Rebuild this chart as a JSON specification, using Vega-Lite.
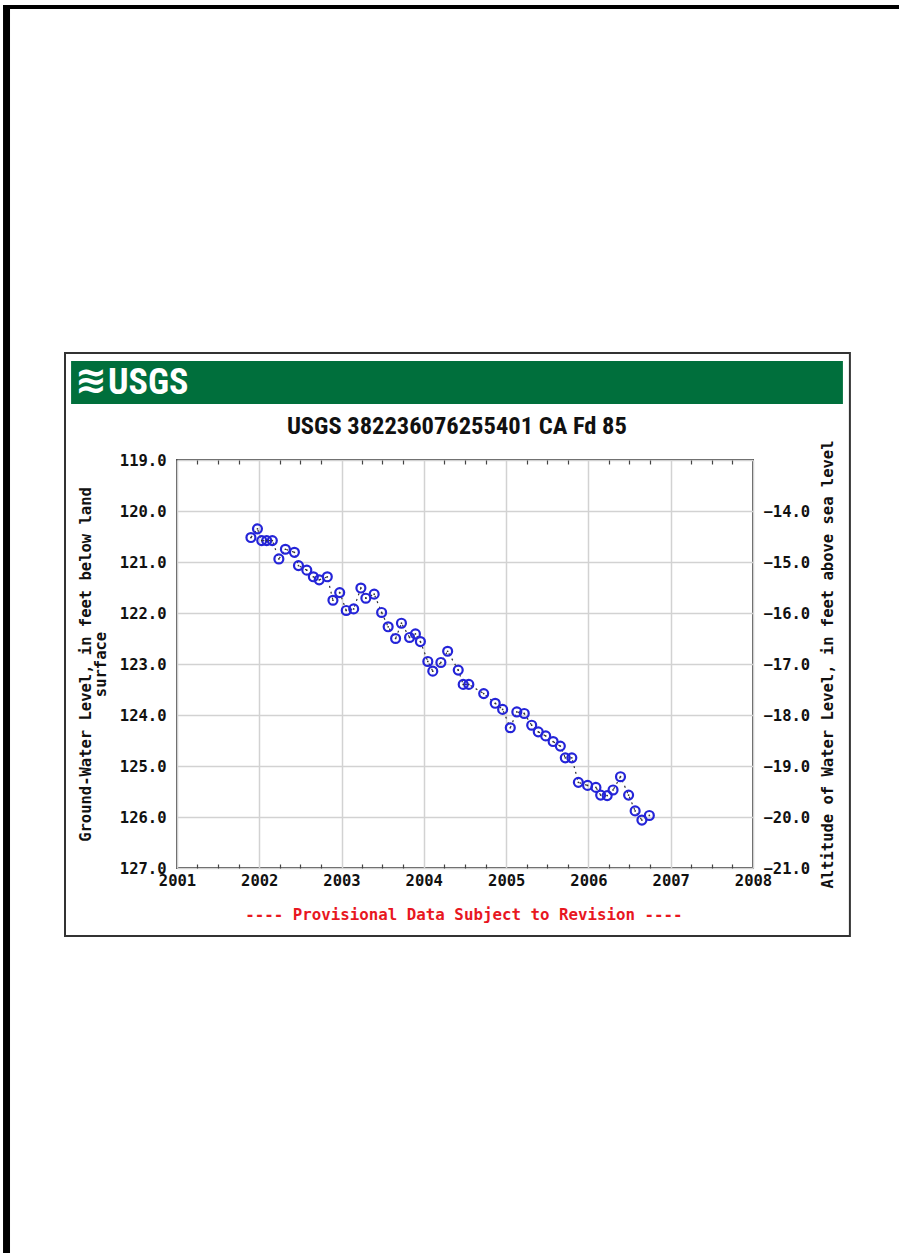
{
  "$schema": "https://vega.github.io/schema/vega-lite/v6.json",
  "width": 576,
  "height": 408,
  "autosize": "none",
  "padding": {"left": 177, "top": 460, "right": 146, "bottom": 385},
  "background": "white",
  "config": {
    "view": {"stroke": "#505050", "strokeWidth": 2},
    "axis": {
      "labelFont": "DejaVu Sans Mono",
      "labelFontWeight": "bold",
      "labelFontSize": 15.5,
      "labelColor": "#111",
      "titleFont": "DejaVu Sans Mono",
      "titleFontWeight": "bold",
      "titleFontSize": 15.5,
      "titleColor": "#111"
    }
  },
  "data": {
    "values": [
      {"date": "2001-11-25", "depth": 120.52},
      {"date": "2001-12-24", "depth": 120.35},
      {"date": "2002-01-12", "depth": 120.58},
      {"date": "2002-02-03", "depth": 120.58},
      {"date": "2002-02-28", "depth": 120.58},
      {"date": "2002-03-29", "depth": 120.94},
      {"date": "2002-04-27", "depth": 120.75},
      {"date": "2002-06-06", "depth": 120.81},
      {"date": "2002-06-24", "depth": 121.07},
      {"date": "2002-07-31", "depth": 121.16},
      {"date": "2002-08-29", "depth": 121.29},
      {"date": "2002-09-24", "depth": 121.35},
      {"date": "2002-10-30", "depth": 121.29},
      {"date": "2002-11-24", "depth": 121.75},
      {"date": "2002-12-24", "depth": 121.60},
      {"date": "2003-01-22", "depth": 121.95},
      {"date": "2003-02-24", "depth": 121.92},
      {"date": "2003-03-28", "depth": 121.51},
      {"date": "2003-04-19", "depth": 121.71},
      {"date": "2003-05-26", "depth": 121.63},
      {"date": "2003-06-28", "depth": 121.99},
      {"date": "2003-07-27", "depth": 122.27},
      {"date": "2003-08-29", "depth": 122.50},
      {"date": "2003-09-24", "depth": 122.20},
      {"date": "2003-10-30", "depth": 122.48},
      {"date": "2003-11-25", "depth": 122.41},
      {"date": "2003-12-17", "depth": 122.56},
      {"date": "2004-01-19", "depth": 122.95},
      {"date": "2004-02-10", "depth": 123.14},
      {"date": "2004-03-17", "depth": 122.97},
      {"date": "2004-04-16", "depth": 122.75},
      {"date": "2004-06-02", "depth": 123.12},
      {"date": "2004-06-24", "depth": 123.40},
      {"date": "2004-07-19", "depth": 123.40},
      {"date": "2004-09-23", "depth": 123.58},
      {"date": "2004-11-13", "depth": 123.77},
      {"date": "2004-12-16", "depth": 123.89},
      {"date": "2005-01-19", "depth": 124.25},
      {"date": "2005-02-17", "depth": 123.94},
      {"date": "2005-03-22", "depth": 123.97},
      {"date": "2005-04-24", "depth": 124.20},
      {"date": "2005-05-23", "depth": 124.33},
      {"date": "2005-06-25", "depth": 124.41},
      {"date": "2005-07-28", "depth": 124.52},
      {"date": "2005-08-29", "depth": 124.61},
      {"date": "2005-09-20", "depth": 124.84},
      {"date": "2005-10-19", "depth": 124.84},
      {"date": "2005-11-17", "depth": 125.32},
      {"date": "2005-12-28", "depth": 125.38},
      {"date": "2006-02-03", "depth": 125.42},
      {"date": "2006-02-24", "depth": 125.57},
      {"date": "2006-03-25", "depth": 125.58},
      {"date": "2006-04-20", "depth": 125.47},
      {"date": "2006-05-23", "depth": 125.21},
      {"date": "2006-06-28", "depth": 125.57},
      {"date": "2006-07-27", "depth": 125.88},
      {"date": "2006-08-26", "depth": 126.06},
      {"date": "2006-09-28", "depth": 125.97}
    ]
  },
  "layer": [
    {
      "layer": [
        {
          "mark": {"type": "line", "color": "#333", "strokeWidth": 1.2, "strokeDash": [2, 4]},
          "encoding": {
            "x": {
              "field": "date", "type": "temporal",
              "scale": {"domain": [{"year": 2001, "month": 1, "date": 1}, {"year": 2008, "month": 1, "date": 1}]},
              "axis": {
                "values": [{"year": 2001, "month": 1, "date": 1}, {"year": 2002, "month": 1, "date": 1}, {"year": 2003, "month": 1, "date": 1}, {"year": 2004, "month": 1, "date": 1}, {"year": 2005, "month": 1, "date": 1}, {"year": 2006, "month": 1, "date": 1}, {"year": 2007, "month": 1, "date": 1}, {"year": 2008, "month": 1, "date": 1}],
                "format": "%Y",
                "title": null,
                "grid": true,
                "gridColor": "#d2d2d2",
                "gridWidth": 1.5,
                "ticks": false,
                "domain": false,
                "labelPadding": 5,
                "labelFlush": false,
                "labelOverlap": false
              }
            },
            "y": {
              "field": "depth", "type": "quantitative",
              "scale": {"domain": [119, 127], "reverse": true},
              "axis": {
                "values": [119, 120, 121, 122, 123, 124, 125, 126, 127],
                "format": ".1f",
                "title": ["Ground-Water Level, in feet below land", "surface"],
                "titleLineHeight": 15,
                "titlePadding": 11,
                "grid": true,
                "gridColor": "#d2d2d2",
                "gridWidth": 1.5,
                "ticks": false,
                "domain": false,
                "labelPadding": 11,
                "labelFlush": false,
                "labelOverlap": false
              }
            }
          }
        },
        {
          "mark": {"type": "point", "shape": "circle", "filled": false, "color": "#2424d8", "strokeWidth": 2.2, "size": 80, "opacity": 1},
          "encoding": {
            "x": {"field": "date", "type": "temporal"},
            "y": {"field": "depth", "type": "quantitative"}
          }
        },
        {
          "mark": {"type": "point", "shape": "circle", "filled": true, "color": "#333", "size": 3, "opacity": 1},
          "encoding": {
            "x": {"field": "date", "type": "temporal"},
            "y": {"field": "depth", "type": "quantitative"}
          }
        }
      ]
    },
    {
      "data": {"values": [{}]},
      "mark": {"type": "rule", "opacity": 0},
      "encoding": {
        "y": {
          "datum": -14, "type": "quantitative",
          "scale": {"domain": [-21, -13]},
          "axis": {
            "orient": "right",
            "values": [-14, -15, -16, -17, -18, -19, -20, -21],
            "format": ".1f",
            "title": "Altitude of Water Level, in feet above sea level",
            "titleAngle": 270,
            "titleBaseline": "top",
            "titlePadding": 11,
            "grid": false,
            "ticks": false,
            "domain": false,
            "labelPadding": 10,
            "labelFlush": false,
            "labelOverlap": false
          }
        }
      }
    },
    {
      "data": {"values": [{}]},
      "mark": {"type": "rule", "opacity": 0},
      "encoding": {
        "x": {
          "datum": {"year": 2001, "month": 1, "date": 1}, "type": "temporal",
          "scale": {"domain": [{"year": 2001, "month": 1, "date": 1}, {"year": 2008, "month": 1, "date": 1}]},
          "axis": {
            "orient": "top",
            "values": [
              {"year": 2001, "month": 4, "date": 1}, {"year": 2001, "month": 7, "date": 1}, {"year": 2001, "month": 10, "date": 1},
              {"year": 2002, "month": 4, "date": 1}, {"year": 2002, "month": 7, "date": 1}, {"year": 2002, "month": 10, "date": 1},
              {"year": 2003, "month": 4, "date": 1}, {"year": 2003, "month": 7, "date": 1}, {"year": 2003, "month": 10, "date": 1},
              {"year": 2004, "month": 4, "date": 1}, {"year": 2004, "month": 7, "date": 1}, {"year": 2004, "month": 10, "date": 1},
              {"year": 2005, "month": 4, "date": 1}, {"year": 2005, "month": 7, "date": 1}, {"year": 2005, "month": 10, "date": 1},
              {"year": 2006, "month": 4, "date": 1}, {"year": 2006, "month": 7, "date": 1}, {"year": 2006, "month": 10, "date": 1},
              {"year": 2007, "month": 4, "date": 1}, {"year": 2007, "month": 7, "date": 1}, {"year": 2007, "month": 10, "date": 1}
            ],
            "labels": false,
            "grid": false,
            "domain": false,
            "title": null,
            "tickSize": -4,
            "tickColor": "#444",
            "tickWidth": 1.2
          }
        }
      }
    },
    {
      "data": {"values": [{}]},
      "mark": {"type": "rule", "opacity": 0},
      "encoding": {
        "x": {
          "datum": {"year": 2001, "month": 1, "date": 1}, "type": "temporal",
          "scale": {"domain": [{"year": 2001, "month": 1, "date": 1}, {"year": 2008, "month": 1, "date": 1}]},
          "axis": {
            "orient": "bottom",
            "values": [
              {"year": 2001, "month": 4, "date": 1}, {"year": 2001, "month": 7, "date": 1}, {"year": 2001, "month": 10, "date": 1},
              {"year": 2002, "month": 4, "date": 1}, {"year": 2002, "month": 7, "date": 1}, {"year": 2002, "month": 10, "date": 1},
              {"year": 2003, "month": 4, "date": 1}, {"year": 2003, "month": 7, "date": 1}, {"year": 2003, "month": 10, "date": 1},
              {"year": 2004, "month": 4, "date": 1}, {"year": 2004, "month": 7, "date": 1}, {"year": 2004, "month": 10, "date": 1},
              {"year": 2005, "month": 4, "date": 1}, {"year": 2005, "month": 7, "date": 1}, {"year": 2005, "month": 10, "date": 1},
              {"year": 2006, "month": 4, "date": 1}, {"year": 2006, "month": 7, "date": 1}, {"year": 2006, "month": 10, "date": 1},
              {"year": 2007, "month": 4, "date": 1}, {"year": 2007, "month": 7, "date": 1}, {"year": 2007, "month": 10, "date": 1}
            ],
            "labels": false,
            "grid": false,
            "domain": false,
            "title": null,
            "tickSize": -4,
            "tickColor": "#444",
            "tickWidth": 1.2
          }
        }
      }
    },
    {
      "layer": [
        {
          "data": {"values": [{}]},
          "mark": {"type": "rect", "color": "#000"},
          "encoding": {
            "x": {"datum": {"year": 1998, "month": 11, "date": 21}, "type": "temporal", "scale": {"domain": [{"year": 2001, "month": 1, "date": 1}, {"year": 2008, "month": 1, "date": 1}]}, "axis": null},
            "x2": {"datum": {"year": 2010, "month": 1, "date": 1}},
            "y": {"datum": 110.078, "type": "quantitative", "scale": {"domain": [119, 127], "reverse": true}, "axis": null},
            "y2": {"datum": 110.157}
          }
        },
        {
          "data": {"values": [{}]},
          "mark": {"type": "rect", "color": "#000"},
          "encoding": {
            "x": {"datum": {"year": 1998, "month": 11, "date": 21}, "type": "temporal", "axis": null},
            "x2": {"datum": {"year": 1998, "month": 12, "date": 22}},
            "y": {"datum": 110.078, "type": "quantitative", "axis": null},
            "y2": {"datum": 135}
          }
        },
        {
          "data": {"values": [{}]},
          "mark": {"type": "rect", "fill": "white", "fillOpacity": 0, "stroke": "#333", "strokeWidth": 2},
          "encoding": {
            "x": {"datum": {"year": 1999, "month": 8, "date": 23}, "type": "temporal", "axis": null},
            "x2": {"datum": {"year": 2009, "month": 3, "date": 6}},
            "y": {"datum": 116.902, "type": "quantitative", "axis": null},
            "y2": {"datum": 128.333}
          }
        },
        {
          "data": {"values": [{}]},
          "mark": {"type": "rect", "color": "#006f3c"},
          "encoding": {
            "x": {"datum": {"year": 1999, "month": 9, "date": 19}, "type": "temporal", "axis": null},
            "x2": {"datum": {"year": 2009, "month": 2, "date": 3}},
            "y": {"datum": 117.059, "type": "quantitative", "axis": null},
            "y2": {"datum": 117.902}
          }
        },
        {
          "data": {"values": [{}]},
          "mark": {"type": "text", "text": "≋", "color": "white", "fontSize": 38, "fontWeight": "bold", "align": "center", "baseline": "middle", "font": "DejaVu Sans"},
          "encoding": {
            "x": {"datum": {"year": 1999, "month": 12, "date": 16}, "type": "temporal", "axis": null},
            "y": {"datum": 117.471, "type": "quantitative", "axis": null}
          }
        },
        {
          "data": {"values": [{}]},
          "mark": {"type": "text", "text": "USGS", "color": "white", "fontSize": 36, "fontWeight": "bold", "align": "left", "baseline": "middle", "font": "Liberation Sans Narrow, Roboto Condensed, Arial Narrow, sans-serif"},
          "encoding": {
            "x": {"datum": {"year": 2000, "month": 3, "date": 1}, "type": "temporal", "axis": null},
            "y": {"datum": 117.49, "type": "quantitative", "axis": null}
          }
        },
        {
          "data": {"values": [{}]},
          "mark": {"type": "text", "text": "USGS 382236076255401 CA Fd  85", "color": "#111", "fontSize": 24.5, "fontWeight": "bold", "align": "center", "baseline": "middle", "font": "Liberation Sans Narrow, Roboto Condensed, Arial Narrow, sans-serif"},
          "encoding": {
            "x": {"datum": {"year": 2004, "month": 5, "date": 27}, "type": "temporal", "axis": null},
            "y": {"datum": 118.353, "type": "quantitative", "axis": null}
          }
        },
        {
          "data": {"values": [{}]},
          "mark": {"type": "text", "text": "---- Provisional Data Subject to Revision ----", "color": "#e8171f", "fontSize": 15.8, "fontWeight": "bold", "align": "center", "baseline": "middle", "font": "DejaVu Sans Mono"},
          "encoding": {
            "x": {"datum": {"year": 2004, "month": 6, "date": 27}, "type": "temporal", "axis": null},
            "y": {"datum": 127.922, "type": "quantitative", "axis": null}
          }
        }
      ]
    }
  ],
  "resolve": {
    "scale": {"y": "independent"},
    "axis": {"x": "independent", "y": "independent"}
  }
}
